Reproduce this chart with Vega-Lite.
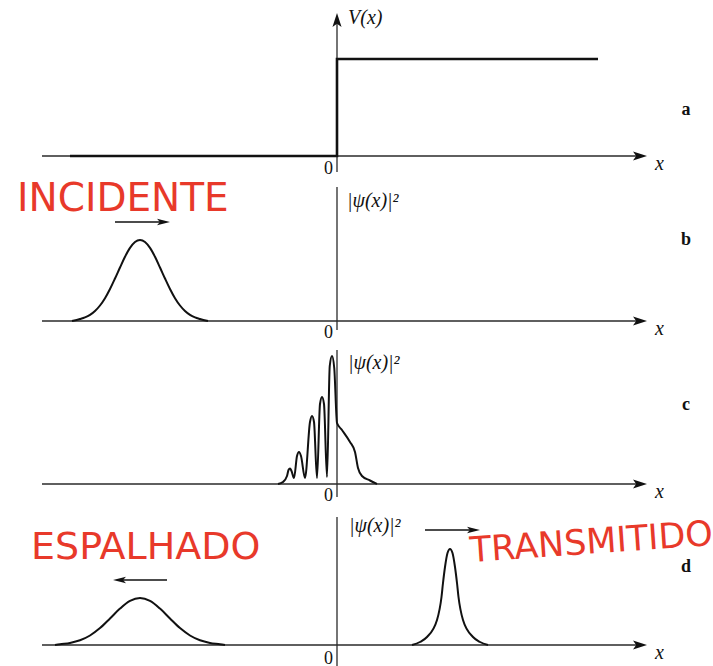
{
  "$schema": "https://vega.github.io/schema/vega-lite/v6.json",
  "padding": 0,
  "spacing": 0,
  "bounds": "flush",
  "background": "white",
  "config": {"view": {"stroke": null}, "concat": {"spacing": 0}},
  "vconcat": [
    {
      "width": 713, "height": 170,
      "layer": [
        {"data": {"values": [{"x": -5.9, "x2": 6.06, "y": 0}]},
         "mark": {"type": "rule", "color": "#2a2a2a", "strokeWidth": 1.3},
         "encoding": {"x": {"field": "x", "type": "quantitative", "scale": {"domain": [-6.74, 7.52]}, "axis": null}, "x2": {"field": "x2"}, "y": {"field": "y", "type": "quantitative", "scale": {"domain": [-0.14, 1.56]}, "axis": null}}},
        {"data": {"values": [{"x": 0, "y": -0.16, "y2": 1.36}]},
         "mark": {"type": "rule", "color": "#2a2a2a", "strokeWidth": 1.3},
         "encoding": {"x": {"field": "x", "type": "quantitative", "scale": {"domain": [-6.74, 7.52]}, "axis": null}, "y": {"field": "y", "type": "quantitative", "scale": {"domain": [-0.14, 1.56]}, "axis": null}, "y2": {"field": "y2"}}},
        {"data": {"values": [{"x": 6.06, "y": 0}]},
         "mark": {"type": "point", "shape": "M1,0L-1,-0.65L-0.55,0L-1,0.65Z", "filled": true, "size": 196, "color": "#111", "opacity": 1},
         "encoding": {"x": {"field": "x", "type": "quantitative", "scale": {"domain": [-6.74, 7.52]}, "axis": null}, "y": {"field": "y", "type": "quantitative", "scale": {"domain": [-0.14, 1.56]}, "axis": null}}},
        {"data": {"values": [{"x": 0, "y": 1.36}]},
         "mark": {"type": "point", "shape": "M0,-1L0.65,1L0,0.55L-0.65,1Z", "filled": true, "size": 196, "color": "#111", "opacity": 1},
         "encoding": {"x": {"field": "x", "type": "quantitative", "scale": {"domain": [-6.74, 7.52]}, "axis": null}, "y": {"field": "y", "type": "quantitative", "scale": {"domain": [-0.14, 1.56]}, "axis": null}}},
        {"data": {"values": [{"i": 0, "x": -5.34, "y": 0}, {"i": 1, "x": 0, "y": 0}, {"i": 2, "x": 0, "y": 0.97}, {"i": 3, "x": 5.22, "y": 0.97}]},
         "mark": {"type": "line", "color": "#111", "strokeWidth": 2.6},
         "encoding": {"x": {"field": "x", "type": "quantitative", "scale": {"domain": [-6.74, 7.52]}, "axis": null}, "y": {"field": "y", "type": "quantitative", "scale": {"domain": [-0.14, 1.56]}, "axis": null}, "order": {"field": "i"}}},
        {"data": {"values": [{"x": 0.22, "y": 1.38, "t": "V(x)"}, {"x": 6.36, "y": -0.08, "t": "x"}]},
         "mark": {"type": "text", "font": "Liberation Serif, Times New Roman, DejaVu Serif, serif", "fontStyle": "italic", "fontSize": 20, "align": "left", "baseline": "middle", "color": "#111"},
         "encoding": {"x": {"field": "x", "type": "quantitative", "scale": {"domain": [-6.74, 7.52]}, "axis": null}, "y": {"field": "y", "type": "quantitative", "scale": {"domain": [-0.14, 1.56]}, "axis": null}, "text": {"field": "t"}}},
        {"data": {"values": [{"x": -0.17, "y": -0.18, "t": "0"}]},
         "mark": {"type": "text", "font": "Liberation Serif, Times New Roman, DejaVu Serif, serif", "fontSize": 18, "align": "center", "baseline": "alphabetic", "color": "#111"},
         "encoding": {"x": {"field": "x", "type": "quantitative", "scale": {"domain": [-6.74, 7.52]}, "axis": null}, "y": {"field": "y", "type": "quantitative", "scale": {"domain": [-0.14, 1.56]}, "axis": null}, "text": {"field": "t"}}},
        {"data": {"values": [{"x": 6.98, "y": 0.41, "t": "a"}]},
         "mark": {"type": "text", "font": "Liberation Serif, Times New Roman, DejaVu Serif, serif", "fontWeight": "bold", "fontSize": 18, "align": "center", "baseline": "alphabetic", "color": "#111"},
         "encoding": {"x": {"field": "x", "type": "quantitative", "scale": {"domain": [-6.74, 7.52]}, "axis": null}, "y": {"field": "y", "type": "quantitative", "scale": {"domain": [-0.14, 1.56]}, "axis": null}, "text": {"field": "t"}}}
      ]
    },
    {
      "width": 713, "height": 165,
      "layer": [
        {"data": {"values": [{"x": -5.9, "x2": 6.06, "y": 0}]},
         "mark": {"type": "rule", "color": "#2a2a2a", "strokeWidth": 1.3},
         "encoding": {"x": {"field": "x", "type": "quantitative", "scale": {"domain": [-6.74, 7.52]}, "axis": null}, "x2": {"field": "x2"}, "y": {"field": "y", "type": "quantitative", "scale": {"domain": [-0.14, 1.51]}, "axis": null}}},
        {"data": {"values": [{"x": 0, "y": -0.09, "y2": 1.34}]},
         "mark": {"type": "rule", "color": "#2a2a2a", "strokeWidth": 1.3},
         "encoding": {"x": {"field": "x", "type": "quantitative", "scale": {"domain": [-6.74, 7.52]}, "axis": null}, "y": {"field": "y", "type": "quantitative", "scale": {"domain": [-0.14, 1.51]}, "axis": null}, "y2": {"field": "y2"}}},
        {"data": {"values": [{"x": 6.06, "y": 0}]},
         "mark": {"type": "point", "shape": "M1,0L-1,-0.65L-0.55,0L-1,0.65Z", "filled": true, "size": 196, "color": "#111", "opacity": 1},
         "encoding": {"x": {"field": "x", "type": "quantitative", "scale": {"domain": [-6.74, 7.52]}, "axis": null}, "y": {"field": "y", "type": "quantitative", "scale": {"domain": [-0.14, 1.51]}, "axis": null}}},
        {"data": {"values": [{"x": -4.44, "x2": -3.5, "y": 0.99}]},
         "mark": {"type": "rule", "color": "#111", "strokeWidth": 1.4},
         "encoding": {"x": {"field": "x", "type": "quantitative", "scale": {"domain": [-6.74, 7.52]}, "axis": null}, "x2": {"field": "x2"}, "y": {"field": "y", "type": "quantitative", "scale": {"domain": [-0.14, 1.51]}, "axis": null}}},
        {"data": {"values": [{"x": -3.47, "y": 0.99}]},
         "mark": {"type": "point", "shape": "M1,0L-1,-0.5L-0.55,0L-1,0.5Z", "filled": true, "size": 169, "color": "#111", "opacity": 1},
         "encoding": {"x": {"field": "x", "type": "quantitative", "scale": {"domain": [-6.74, 7.52]}, "axis": null}, "y": {"field": "y", "type": "quantitative", "scale": {"domain": [-0.14, 1.51]}, "axis": null}}},
        {"data": {"values": [
          {"x": -5.30, "y": 0}, {"x": -5.14, "y": 0.02}, {"x": -5.04, "y": 0.036}, {"x": -4.94, "y": 0.061}, {"x": -4.84, "y": 0.10},
          {"x": -4.74, "y": 0.155}, {"x": -4.64, "y": 0.228}, {"x": -4.54, "y": 0.32}, {"x": -4.44, "y": 0.425}, {"x": -4.34, "y": 0.535},
          {"x": -4.24, "y": 0.642}, {"x": -4.14, "y": 0.731}, {"x": -4.04, "y": 0.79}, {"x": -3.94, "y": 0.81}, {"x": -3.84, "y": 0.79},
          {"x": -3.74, "y": 0.731}, {"x": -3.64, "y": 0.642}, {"x": -3.54, "y": 0.535}, {"x": -3.44, "y": 0.425}, {"x": -3.34, "y": 0.32},
          {"x": -3.24, "y": 0.228}, {"x": -3.14, "y": 0.155}, {"x": -3.04, "y": 0.10}, {"x": -2.94, "y": 0.061}, {"x": -2.84, "y": 0.036},
          {"x": -2.74, "y": 0.02}, {"x": -2.58, "y": 0}]},
         "mark": {"type": "line", "color": "#111", "strokeWidth": 2, "interpolate": "monotone"},
         "encoding": {"x": {"field": "x", "type": "quantitative", "scale": {"domain": [-6.74, 7.52]}, "axis": null}, "y": {"field": "y", "type": "quantitative", "scale": {"domain": [-0.14, 1.51]}, "axis": null}}},
        {"data": {"values": [{"x": 0.2, "y": 1.2, "t": "|ψ(x)|²"}, {"x": 6.36, "y": -0.08, "t": "x"}]},
         "mark": {"type": "text", "font": "Liberation Serif, Times New Roman, DejaVu Serif, serif", "fontStyle": "italic", "fontSize": 20, "align": "left", "baseline": "middle", "color": "#111"},
         "encoding": {"x": {"field": "x", "type": "quantitative", "scale": {"domain": [-6.74, 7.52]}, "axis": null}, "y": {"field": "y", "type": "quantitative", "scale": {"domain": [-0.14, 1.51]}, "axis": null}, "text": {"field": "t"}}},
        {"data": {"values": [{"x": -0.17, "y": -0.17, "t": "0"}]},
         "mark": {"type": "text", "font": "Liberation Serif, Times New Roman, DejaVu Serif, serif", "fontSize": 18, "align": "center", "baseline": "alphabetic", "color": "#111"},
         "encoding": {"x": {"field": "x", "type": "quantitative", "scale": {"domain": [-6.74, 7.52]}, "axis": null}, "y": {"field": "y", "type": "quantitative", "scale": {"domain": [-0.14, 1.51]}, "axis": null}, "text": {"field": "t"}}},
        {"data": {"values": [{"x": 6.98, "y": 0.76, "t": "b"}]},
         "mark": {"type": "text", "font": "Liberation Serif, Times New Roman, DejaVu Serif, serif", "fontWeight": "bold", "fontSize": 18, "align": "center", "baseline": "alphabetic", "color": "#111"},
         "encoding": {"x": {"field": "x", "type": "quantitative", "scale": {"domain": [-6.74, 7.52]}, "axis": null}, "y": {"field": "y", "type": "quantitative", "scale": {"domain": [-0.14, 1.51]}, "axis": null}, "text": {"field": "t"}}},
        {"data": {"values": [{"x": -6.40, "y": 1.22, "t": "INCIDENTE"}]},
         "mark": {"type": "text", "font": "DejaVu Sans", "fontSize": 39, "align": "left", "baseline": "middle", "color": "#e8392a"},
         "encoding": {"x": {"field": "x", "type": "quantitative", "scale": {"domain": [-6.74, 7.52]}, "axis": null}, "y": {"field": "y", "type": "quantitative", "scale": {"domain": [-0.14, 1.51]}, "axis": null}, "text": {"field": "t"}}}
      ]
    },
    {
      "width": 713, "height": 165,
      "layer": [
        {"data": {"values": [{"x": -5.9, "x2": 6.06, "y": 0}]},
         "mark": {"type": "rule", "color": "#2a2a2a", "strokeWidth": 1.3},
         "encoding": {"x": {"field": "x", "type": "quantitative", "scale": {"domain": [-6.74, 7.52]}, "axis": null}, "x2": {"field": "x2"}, "y": {"field": "y", "type": "quantitative", "scale": {"domain": [-0.16, 1.49]}, "axis": null}}},
        {"data": {"values": [{"x": 0, "y": -0.13, "y2": 1.34}]},
         "mark": {"type": "rule", "color": "#2a2a2a", "strokeWidth": 1.3},
         "encoding": {"x": {"field": "x", "type": "quantitative", "scale": {"domain": [-6.74, 7.52]}, "axis": null}, "y": {"field": "y", "type": "quantitative", "scale": {"domain": [-0.16, 1.49]}, "axis": null}, "y2": {"field": "y2"}}},
        {"data": {"values": [{"x": 6.06, "y": 0}]},
         "mark": {"type": "point", "shape": "M1,0L-1,-0.65L-0.55,0L-1,0.65Z", "filled": true, "size": 196, "color": "#111", "opacity": 1},
         "encoding": {"x": {"field": "x", "type": "quantitative", "scale": {"domain": [-6.74, 7.52]}, "axis": null}, "y": {"field": "y", "type": "quantitative", "scale": {"domain": [-0.16, 1.49]}, "axis": null}}},
        {"data": {"values": [
          {"x": -1.18, "y": 0.0}, {"x": -1.08, "y": 0.02}, {"x": -1.00, "y": 0.08}, {"x": -0.97, "y": 0.14}, {"x": -0.94, "y": 0.155}, {"x": -0.91, "y": 0.13}, {"x": -0.86, "y": 0.06},
          {"x": -0.80, "y": 0.28}, {"x": -0.76, "y": 0.32}, {"x": -0.72, "y": 0.28}, {"x": -0.64, "y": 0.06},
          {"x": -0.54, "y": 0.62}, {"x": -0.50, "y": 0.68}, {"x": -0.46, "y": 0.62}, {"x": -0.40, "y": 0.06},
          {"x": -0.34, "y": 0.80}, {"x": -0.30, "y": 0.87}, {"x": -0.26, "y": 0.80}, {"x": -0.20, "y": 0.07},
          {"x": -0.145, "y": 1.18}, {"x": -0.10, "y": 1.28}, {"x": -0.055, "y": 1.16}, {"x": 0.0, "y": 0.61}, {"x": 0.10, "y": 0.54}, {"x": 0.26, "y": 0.42},
          {"x": 0.36, "y": 0.32}, {"x": 0.42, "y": 0.16}, {"x": 0.50, "y": 0.08}, {"x": 0.66, "y": 0.035}, {"x": 0.80, "y": 0.0}]},
         "mark": {"type": "line", "color": "#111", "strokeWidth": 2, "interpolate": "monotone"},
         "encoding": {"x": {"field": "x", "type": "quantitative", "scale": {"domain": [-6.74, 7.52]}, "axis": null}, "y": {"field": "y", "type": "quantitative", "scale": {"domain": [-0.16, 1.49]}, "axis": null}}},
        {"data": {"values": [{"x": 0.22, "y": 1.21, "t": "|ψ(x)|²"}, {"x": 6.36, "y": -0.08, "t": "x"}]},
         "mark": {"type": "text", "font": "Liberation Serif, Times New Roman, DejaVu Serif, serif", "fontStyle": "italic", "fontSize": 20, "align": "left", "baseline": "middle", "color": "#111"},
         "encoding": {"x": {"field": "x", "type": "quantitative", "scale": {"domain": [-6.74, 7.52]}, "axis": null}, "y": {"field": "y", "type": "quantitative", "scale": {"domain": [-0.16, 1.49]}, "axis": null}, "text": {"field": "t"}}},
        {"data": {"values": [{"x": -0.17, "y": -0.17, "t": "0"}]},
         "mark": {"type": "text", "font": "Liberation Serif, Times New Roman, DejaVu Serif, serif", "fontSize": 18, "align": "center", "baseline": "alphabetic", "color": "#111"},
         "encoding": {"x": {"field": "x", "type": "quantitative", "scale": {"domain": [-6.74, 7.52]}, "axis": null}, "y": {"field": "y", "type": "quantitative", "scale": {"domain": [-0.16, 1.49]}, "axis": null}, "text": {"field": "t"}}},
        {"data": {"values": [{"x": 6.98, "y": 0.74, "t": "c"}]},
         "mark": {"type": "text", "font": "Liberation Serif, Times New Roman, DejaVu Serif, serif", "fontWeight": "bold", "fontSize": 18, "align": "center", "baseline": "alphabetic", "color": "#111"},
         "encoding": {"x": {"field": "x", "type": "quantitative", "scale": {"domain": [-6.74, 7.52]}, "axis": null}, "y": {"field": "y", "type": "quantitative", "scale": {"domain": [-0.16, 1.49]}, "axis": null}, "text": {"field": "t"}}}
      ]
    },
    {
      "width": 713, "height": 166,
      "layer": [
        {"data": {"values": [{"x": -5.9, "x2": 6.06, "y": 0}]},
         "mark": {"type": "rule", "color": "#2a2a2a", "strokeWidth": 1.3},
         "encoding": {"x": {"field": "x", "type": "quantitative", "scale": {"domain": [-6.74, 7.52]}, "axis": null}, "x2": {"field": "x2"}, "y": {"field": "y", "type": "quantitative", "scale": {"domain": [-0.21, 1.45]}, "axis": null}}},
        {"data": {"values": [{"x": 0, "y": -0.21, "y2": 1.28}]},
         "mark": {"type": "rule", "color": "#2a2a2a", "strokeWidth": 1.3},
         "encoding": {"x": {"field": "x", "type": "quantitative", "scale": {"domain": [-6.74, 7.52]}, "axis": null}, "y": {"field": "y", "type": "quantitative", "scale": {"domain": [-0.21, 1.45]}, "axis": null}, "y2": {"field": "y2"}}},
        {"data": {"values": [{"x": 6.06, "y": 0}]},
         "mark": {"type": "point", "shape": "M1,0L-1,-0.65L-0.55,0L-1,0.65Z", "filled": true, "size": 196, "color": "#111", "opacity": 1},
         "encoding": {"x": {"field": "x", "type": "quantitative", "scale": {"domain": [-6.74, 7.52]}, "axis": null}, "y": {"field": "y", "type": "quantitative", "scale": {"domain": [-0.21, 1.45]}, "axis": null}}},
        {"data": {"values": [{"x": -4.32, "x2": -3.40, "y": 0.65}, {"x": 1.76, "x2": 2.70, "y": 1.15}]},
         "mark": {"type": "rule", "color": "#111", "strokeWidth": 1.4},
         "encoding": {"x": {"field": "x", "type": "quantitative", "scale": {"domain": [-6.74, 7.52]}, "axis": null}, "x2": {"field": "x2"}, "y": {"field": "y", "type": "quantitative", "scale": {"domain": [-0.21, 1.45]}, "axis": null}}},
        {"data": {"values": [{"x": -4.35, "y": 0.65}]},
         "mark": {"type": "point", "shape": "M-1,0L1,-0.5L0.55,0L1,0.5Z", "filled": true, "size": 169, "color": "#111", "opacity": 1},
         "encoding": {"x": {"field": "x", "type": "quantitative", "scale": {"domain": [-6.74, 7.52]}, "axis": null}, "y": {"field": "y", "type": "quantitative", "scale": {"domain": [-0.21, 1.45]}, "axis": null}}},
        {"data": {"values": [{"x": 2.73, "y": 1.15}]},
         "mark": {"type": "point", "shape": "M1,0L-1,-0.5L-0.55,0L-1,0.5Z", "filled": true, "size": 169, "color": "#111", "opacity": 1},
         "encoding": {"x": {"field": "x", "type": "quantitative", "scale": {"domain": [-6.74, 7.52]}, "axis": null}, "y": {"field": "y", "type": "quantitative", "scale": {"domain": [-0.21, 1.45]}, "axis": null}}},
        {"data": {"values": [
          {"x": -5.64, "y": 0}, {"x": -5.54, "y": 0.008}, {"x": -5.34, "y": 0.021}, {"x": -5.14, "y": 0.047}, {"x": -4.94, "y": 0.095},
          {"x": -4.74, "y": 0.169}, {"x": -4.54, "y": 0.265}, {"x": -4.34, "y": 0.364}, {"x": -4.14, "y": 0.441}, {"x": -3.94, "y": 0.47},
          {"x": -3.74, "y": 0.441}, {"x": -3.54, "y": 0.364}, {"x": -3.34, "y": 0.265}, {"x": -3.14, "y": 0.169}, {"x": -2.94, "y": 0.095},
          {"x": -2.74, "y": 0.047}, {"x": -2.54, "y": 0.021}, {"x": -2.34, "y": 0.008}, {"x": -2.24, "y": 0}]},
         "mark": {"type": "line", "color": "#111", "strokeWidth": 2, "interpolate": "monotone"},
         "encoding": {"x": {"field": "x", "type": "quantitative", "scale": {"domain": [-6.74, 7.52]}, "axis": null}, "y": {"field": "y", "type": "quantitative", "scale": {"domain": [-0.21, 1.45]}, "axis": null}}},
        {"data": {"values": [
          {"x": 1.50, "y": 0}, {"x": 1.66, "y": 0.03}, {"x": 1.80, "y": 0.08}, {"x": 2.00, "y": 0.25}, {"x": 2.09, "y": 0.48},
          {"x": 2.12, "y": 0.62}, {"x": 2.16, "y": 0.78}, {"x": 2.21, "y": 0.92}, {"x": 2.26, "y": 0.96}, {"x": 2.31, "y": 0.92},
          {"x": 2.36, "y": 0.78}, {"x": 2.40, "y": 0.62}, {"x": 2.43, "y": 0.48}, {"x": 2.52, "y": 0.25}, {"x": 2.72, "y": 0.08},
          {"x": 2.86, "y": 0.03}, {"x": 3.02, "y": 0}]},
         "mark": {"type": "line", "color": "#111", "strokeWidth": 2, "interpolate": "monotone"},
         "encoding": {"x": {"field": "x", "type": "quantitative", "scale": {"domain": [-6.74, 7.52]}, "axis": null}, "y": {"field": "y", "type": "quantitative", "scale": {"domain": [-0.21, 1.45]}, "axis": null}}},
        {"data": {"values": [{"x": 0.24, "y": 1.19, "t": "|ψ(x)|²"}, {"x": 6.36, "y": -0.08, "t": "x"}]},
         "mark": {"type": "text", "font": "Liberation Serif, Times New Roman, DejaVu Serif, serif", "fontStyle": "italic", "fontSize": 20, "align": "left", "baseline": "middle", "color": "#111"},
         "encoding": {"x": {"field": "x", "type": "quantitative", "scale": {"domain": [-6.74, 7.52]}, "axis": null}, "y": {"field": "y", "type": "quantitative", "scale": {"domain": [-0.21, 1.45]}, "axis": null}, "text": {"field": "t"}}},
        {"data": {"values": [{"x": -0.17, "y": -0.185, "t": "0"}]},
         "mark": {"type": "text", "font": "Liberation Serif, Times New Roman, DejaVu Serif, serif", "fontSize": 18, "align": "center", "baseline": "alphabetic", "color": "#111"},
         "encoding": {"x": {"field": "x", "type": "quantitative", "scale": {"domain": [-6.74, 7.52]}, "axis": null}, "y": {"field": "y", "type": "quantitative", "scale": {"domain": [-0.21, 1.45]}, "axis": null}, "text": {"field": "t"}}},
        {"data": {"values": [{"x": 6.98, "y": 0.73, "t": "d"}]},
         "mark": {"type": "text", "font": "Liberation Serif, Times New Roman, DejaVu Serif, serif", "fontWeight": "bold", "fontSize": 18, "align": "center", "baseline": "alphabetic", "color": "#111"},
         "encoding": {"x": {"field": "x", "type": "quantitative", "scale": {"domain": [-6.74, 7.52]}, "axis": null}, "y": {"field": "y", "type": "quantitative", "scale": {"domain": [-0.21, 1.45]}, "axis": null}, "text": {"field": "t"}}},
        {"data": {"values": [{"x": -6.12, "y": 0.97, "t": "ESPALHADO"}]},
         "mark": {"type": "text", "font": "DejaVu Sans", "fontSize": 38, "align": "left", "baseline": "middle", "color": "#e8392a"},
         "encoding": {"x": {"field": "x", "type": "quantitative", "scale": {"domain": [-6.74, 7.52]}, "axis": null}, "y": {"field": "y", "type": "quantitative", "scale": {"domain": [-0.21, 1.45]}, "axis": null}, "text": {"field": "t"}}},
        {"data": {"values": [{"x": 2.66, "y": 0.94, "t": "TRANSMITIDO"}]},
         "mark": {"type": "text", "font": "DejaVu Sans", "fontSize": 35, "align": "left", "baseline": "middle", "angle": -4, "color": "#e8392a"},
         "encoding": {"x": {"field": "x", "type": "quantitative", "scale": {"domain": [-6.74, 7.52]}, "axis": null}, "y": {"field": "y", "type": "quantitative", "scale": {"domain": [-0.21, 1.45]}, "axis": null}, "text": {"field": "t"}}}
      ]
    }
  ]
}
